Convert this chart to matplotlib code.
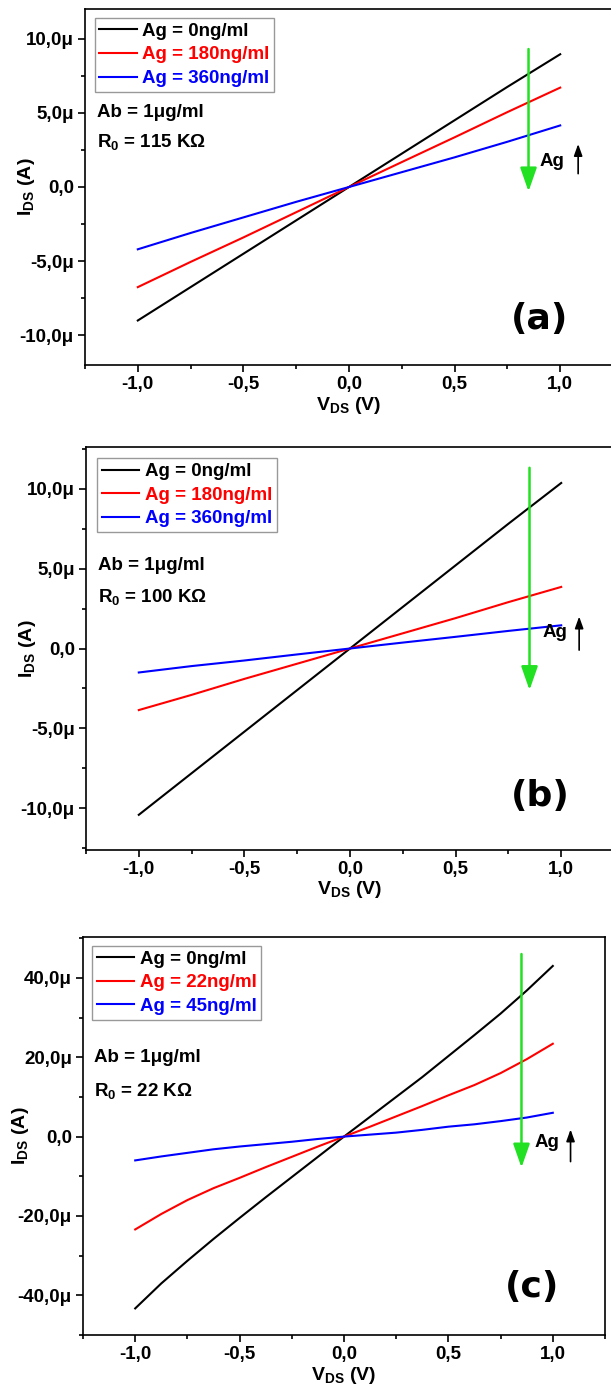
import matplotlib
matplotlib.use("Agg")
import matplotlib.pyplot as plt
from matplotlib.ticker import FixedLocator, FixedFormatter, MultipleLocator

plt.rcParams['font.family'] = ['Liberation Sans', 'DejaVu Sans']
plt.rcParams['font.weight'] = 'bold'
plt.rcParams['mathtext.fontset'] = 'custom'
plt.rcParams['mathtext.rm'] = 'Liberation Sans'
plt.rcParams['mathtext.bf'] = 'Liberation Sans:bold'
plt.rcParams['mathtext.it'] = 'Liberation Sans:bold'

# ---------------- data ----------------
V_ab = [-1.0, -0.75, -0.5, -0.25, 0.0, 0.25, 0.5, 0.75, 1.0]

# panel (a), current in microamps
a_black = [-9.0, -6.75, -4.5, -2.25, 0.0, 2.25, 4.5, 6.75, 8.95]
a_red = [-6.75, -5.05, -3.4, -1.7, 0.0, 1.68, 3.35, 5.05, 6.7]
a_blue = [-4.2, -3.1, -2.05, -1.0, 0.0, 1.0, 2.0, 3.05, 4.15]
a_labels = ['Ag = 0ng/ml', 'Ag = 180ng/ml', 'Ag = 360ng/ml']

# panel (b)
b_black = [-10.4, -7.8, -5.2, -2.6, 0.0, 2.6, 5.2, 7.8, 10.35]
b_red = [-3.85, -2.9, -1.9, -0.95, 0.0, 0.95, 1.9, 2.9, 3.85]
b_blue = [-1.5, -1.1, -0.75, -0.37, 0.0, 0.37, 0.73, 1.1, 1.45]
b_labels = ['Ag = 0ng/ml', 'Ag = 180ng/ml', 'Ag = 360ng/ml']

# panel (c)
V_c = [-1.0, -0.875, -0.75, -0.625, -0.5, -0.375, -0.25, -0.125, 0.0,
       0.125, 0.25, 0.375, 0.5, 0.625, 0.75, 0.875, 1.0]
c_black = [-43.3, -37.0, -31.3, -25.8, -20.5, -15.3, -10.2, -5.1, 0.0,
           5.0, 10.0, 15.0, 20.3, 25.6, 31.0, 36.8, 43.0]
c_red = [-23.4, -19.5, -16.0, -13.0, -10.4, -7.7, -5.1, -2.5, 0.0,
         2.5, 5.1, 7.7, 10.4, 13.0, 16.0, 19.5, 23.4]
c_blue = [-6.0, -5.0, -4.1, -3.2, -2.5, -1.9, -1.3, -0.6, 0.0,
          0.5, 1.0, 1.7, 2.5, 3.1, 3.9, 4.8, 6.0]
c_labels = ['Ag = 0ng/ml', 'Ag = 22ng/ml', 'Ag = 45ng/ml']

x_ticks = [-1.0, -0.5, 0.0, 0.5, 1.0]
x_ticklabels = ['-1,0', '-0,5', '0,0', '0,5', '1,0']
ab_ticks = [-10, -5, 0, 5, 10]
ab_ticklabels = ['-10,0\u03bc', '-5,0\u03bc', '0,0', '5,0\u03bc', '10,0\u03bc']
c_ticks = [-40, -20, 0, 20, 40]
c_ticklabels = ['-40,0\u03bc', '-20,0\u03bc', '0,0', '20,0\u03bc', '40,0\u03bc']

R0_texts = ['115 K\u03a9', '100 K\u03a9', '22 K\u03a9']
panel_tags = ['(a)', '(b)', '(c)']

# ---------------- figure ----------------
W, H = 611, 1396
fig = plt.figure(figsize=(W / 100, H / 100), dpi=100)

def rect(left, top, right, bottom):
    return [left / W, 1 - bottom / H, (right - left) / W, (bottom - top) / H]

panels = [
    dict(rect=rect(85, 9, 613, 365), ylim=(-12, 12), ticks=ab_ticks, tl=ab_ticklabels, minor=2.5,
         V=V_ab, data=(a_black, a_red, a_blue), labels=a_labels,
         green=(9.3, -0.3), ag=(0.96, 1.75), agarr=(0.9, 2.9), tag=-8.9,
         leg=(0.018, 0.975), txt1=0.708, txt2=0.626, ylx=-0.09),
    dict(rect=rect(86, 447, 614, 850), ylim=(-12.6, 12.6), ticks=ab_ticks, tl=ab_ticklabels, minor=2.5,
         V=V_ab, data=(b_black, b_red, b_blue), labels=b_labels,
         green=(11.3, -2.6), ag=(0.97, 1.0), agarr=(-0.1, 2.0), tag=-9.2,
         leg=(0.021, 0.972), txt1=0.707, txt2=0.628, ylx=-0.09),
    dict(rect=rect(83, 937, 605, 1335), ylim=(-50, 50.3), ticks=c_ticks, tl=c_ticklabels, minor=10,
         V=V_c, data=(c_black, c_red, c_blue), labels=c_labels,
         green=(46.0, -7.8), ag=(0.97, -1.5), agarr=(-6.3, 1.8), tag=-38,
         leg=(0.017, 0.978), txt1=0.696, txt2=0.613, ylx=-0.10),
]

colors = ['black', '#ff0000', '#0000ff']

for i, p in enumerate(panels):
    ax = fig.add_axes(p['rect'])
    for y, c, lab in zip(p['data'], colors, p['labels']):
        ax.plot(p['V'], y, color=c, lw=1.5, label=lab)
    ax.set_xlim(-1.25, 1.25)
    ax.set_ylim(*p['ylim'])
    ax.xaxis.set_major_locator(FixedLocator(x_ticks))
    ax.xaxis.set_major_formatter(FixedFormatter(x_ticklabels))
    ax.xaxis.set_minor_locator(MultipleLocator(0.25))
    ax.yaxis.set_major_locator(FixedLocator(p['ticks']))
    ax.yaxis.set_major_formatter(FixedFormatter(p['tl']))
    ax.yaxis.set_minor_locator(MultipleLocator(p['minor']))
    ax.tick_params(which='both', direction='out', width=1.2, labelsize=13.5)
    ax.tick_params(which='major', length=5, pad=3)
    ax.tick_params(which='minor', length=3)
    for lab in ax.get_xticklabels() + ax.get_yticklabels():
        lab.set_fontweight('bold')
    for s in ax.spines.values():
        s.set_linewidth(1.2)
    ax.set_xlabel(r'$\mathbf{V_{DS}}$ (V)', fontsize=14, fontweight='bold', labelpad=1)
    ax.set_ylabel(r'$\mathbf{I_{DS}}$ (A)', fontsize=14, fontweight='bold')
    ax.yaxis.set_label_coords(p['ylx'], 0.5)

    leg = ax.legend(loc='upper left', bbox_to_anchor=p['leg'], borderaxespad=0,
                    fontsize=13.5, frameon=True, fancybox=False, handlelength=2.0,
                    handletextpad=0.3, labelspacing=0.35, borderpad=0.25)
    leg.get_frame().set_edgecolor('#808080')
    leg.get_frame().set_linewidth(1.0)
    for t, c in zip(leg.get_texts(), colors):
        t.set_color(c)
        t.set_fontweight('bold')

    ax.text(0.022, p['txt1'], 'Ab = 1\u03bcg/ml', transform=ax.transAxes, fontsize=13.5,
            fontweight='bold', va='center', ha='left')
    ax.text(0.022, p['txt2'], r'R$_\mathbf{0}$ = ' + R0_texts[i], transform=ax.transAxes,
            fontsize=13.5, fontweight='bold', va='center', ha='left')

    # green arrow
    g0, g1 = p['green']
    ax.annotate('', xy=(0.85, g1), xytext=(0.85, g0),
                arrowprops=dict(arrowstyle='-|>,head_length=0.8,head_width=0.28',
                                color='#22e022', lw=1.8, mutation_scale=18, shrinkA=0, shrinkB=0))
    # Ag up arrow
    ax.text(p['ag'][0], p['ag'][1], 'Ag', fontsize=13.5, fontweight='bold', ha='center', va='center')
    a0, a1 = p['agarr']
    ax.annotate('', xy=(1.085, a1), xytext=(1.085, a0),
                arrowprops=dict(arrowstyle='-|>,head_length=0.5,head_width=0.18',
                                color='black', lw=1.2, mutation_scale=14, shrinkA=0, shrinkB=0))
    ax.text(0.9, p['tag'], panel_tags[i], fontsize=26, fontweight='bold', family='DejaVu Sans',
            ha='center', va='center')

fig.savefig('out.png', dpi=100)
